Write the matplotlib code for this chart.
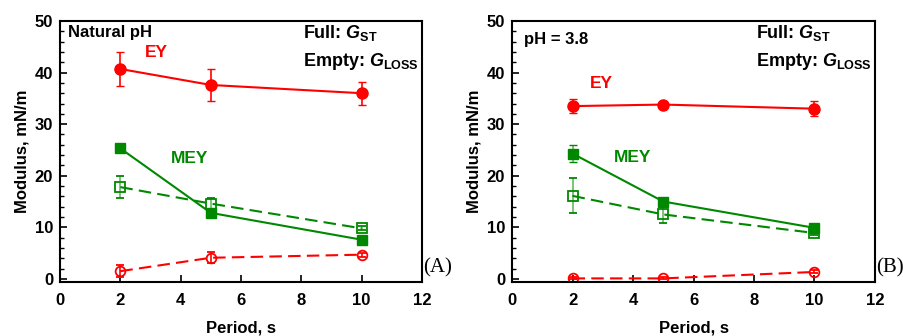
import matplotlib
matplotlib.use("Agg")
import matplotlib.pyplot as plt
from matplotlib.ticker import MultipleLocator

plt.rcParams["font.family"] = ["Liberation Sans", "DejaVu Sans"]
plt.rcParams["font.weight"] = "bold"
plt.rcParams["mathtext.fontset"] = "custom"
plt.rcParams["mathtext.it"] = "Liberation Sans:italic:bold"
plt.rcParams["mathtext.rm"] = "Liberation Sans:bold"
plt.rcParams["mathtext.bf"] = "Liberation Sans:bold"

period = [2, 5, 10]

# Panel A (natural pH)
a_ey_full = [40.7, 37.6, 36.0]
a_ey_full_err = [3.3, 3.1, 2.2]
a_ey_empty = [1.5, 4.1, 4.7]
a_ey_empty_err = [1.2, 1.1, 0.4]
a_mey_full = [25.3, 12.8, 7.6]
a_mey_full_err = [0.3, 0.3, 0.3]
a_mey_empty = [17.8, 14.6, 9.8]
a_mey_empty_err = [2.2, 1.1, 0.4]

# Panel B (pH = 3.8)
b_ey_full = [33.5, 33.8, 33.0]
b_ey_full_err = [1.4, 0.5, 1.4]
b_ey_empty = [0.1, 0.1, 1.35]
b_ey_empty_err = [0.2, 0.2, 0.3]
b_mey_full = [24.3, 15.0, 9.9]
b_mey_full_err = [1.7, 0.5, 0.4]
b_mey_empty = [16.1, 12.5, 8.9]
b_mey_empty_err = [3.4, 1.6, 0.4]

RED = "#ff0000"
GREEN = "#008800"

fig = plt.figure(figsize=(9.04, 3.36), dpi=100)
ax_a = fig.add_axes([0.0664, 0.1607, 0.4004, 0.7768])
ax_b = fig.add_axes([0.5664, 0.1607, 0.4015, 0.7768])


def draw_panel(ax, ey_f, ey_fe, ey_e, ey_ee, mey_f, mey_fe, mey_e, mey_ee,
               note, note_pos, ey_pos, mey_pos, tag):
    kw = dict(capsize=3, elinewidth=1.2, capthick=1.0, lw=1.5)
    ax.errorbar(period, ey_f, yerr=ey_fe, color=RED, marker="o", ms=8, **kw)
    ax.errorbar(period, ey_e, yerr=ey_ee, color=RED, marker="o", ms=7,
                mfc="none", mew=1.3, ls=(0, (6, 3)), **kw)
    eb = ax.errorbar(period, mey_f, yerr=mey_fe, color=GREEN, marker="s", ms=7.5, **kw)
    eb[2][0].set_alpha(0.6)
    eb = ax.errorbar(period, mey_e, yerr=mey_ee, color=GREEN, marker="s", ms=7,
                     mfc="none", mew=1.3, ls=(0, (6, 3)), **kw)
    eb[2][0].set_alpha(0.6)

    ax.set_xlim(0, 12)
    ax.set_ylim(-0.6, 50)
    ax.xaxis.set_major_locator(MultipleLocator(2))
    ax.yaxis.set_major_locator(MultipleLocator(10))
    ax.yaxis.set_minor_locator(MultipleLocator(2))
    ax.tick_params(axis="both", which="both", direction="in", labelsize=12,
                   top=False, right=False)
    ax.tick_params(which="major", length=5, width=1.2)
    ax.tick_params(which="minor", length=3, width=1.0)
    ax.tick_params(axis="x", pad=8)
    ax.tick_params(axis="y", pad=5)
    for sp in ax.spines.values():
        sp.set_linewidth(1.5)
    ax.set_xlabel("Period, s", fontsize=12, fontweight="bold", labelpad=9)
    ax.set_ylabel("Modulus, mN/m", fontsize=12, fontweight="bold", labelpad=4)

    ax.text(note_pos[0], note_pos[1], note, fontsize=12, fontweight="bold",
            va="center")
    ax.text(8.05, 47.6, r"Full: $G_{\mathrm{ST}}$", fontsize=13, va="center")
    ax.text(8.05, 42.2, r"Empty: $G_{\mathrm{LOSS}}$", fontsize=13, va="center")
    ax.text(ey_pos[0], ey_pos[1], "EY", color=RED, fontsize=12.5,
            fontweight="bold", va="center")
    ax.text(mey_pos[0], mey_pos[1], "MEY", color=GREEN, fontsize=12.5,
            fontweight="bold", va="center")
    ax.text(1.004, 0.055, tag, transform=ax.transAxes, fontsize=15,
            family="Liberation Serif", fontweight="normal", va="center")


draw_panel(ax_a, a_ey_full, a_ey_full_err, a_ey_empty, a_ey_empty_err,
           a_mey_full, a_mey_full_err, a_mey_empty, a_mey_empty_err,
           "Natural pH", (0.27, 47.8), (2.8, 43.8), (3.68, 23.4), "(A)")
draw_panel(ax_b, b_ey_full, b_ey_full_err, b_ey_empty, b_ey_empty_err,
           b_mey_full, b_mey_full_err, b_mey_empty, b_mey_empty_err,
           "pH = 3.8", (0.4, 46.5), (2.58, 37.8), (3.38, 23.6), "(B)")

fig.savefig("out.png", dpi=100)
